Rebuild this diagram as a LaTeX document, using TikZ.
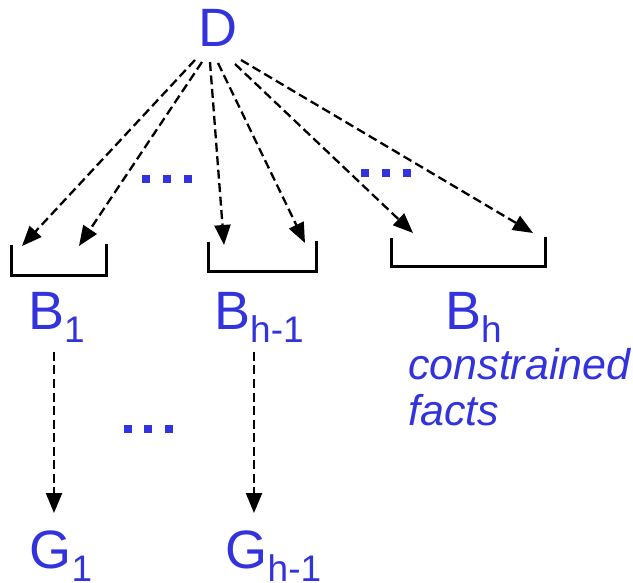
\documentclass[tikz,border=0pt]{standalone}
\usepackage{fontspec}
\setmainfont{Liberation Sans}
\usetikzlibrary{arrows.meta}
\definecolor{tblue}{RGB}{51,51,221}
\newcommand{\lsub}[1]{\raisebox{-13pt}{\fontsize{37}{40}\selectfont #1}}
\tikzset{
  lbl/.style={text=tblue, inner sep=0pt, anchor=base west, font=\fontsize{54}{60}\selectfont},
  note/.style={text=tblue, inner sep=0pt, anchor=base west, font=\fontsize{43}{45}\selectfont\itshape},
  darr/.style={draw=black, line width=2.3pt, dash pattern=on 9pt off 4.5pt, -{Triangle[length=20pt,width=16pt]}},
  bucketline/.style={draw=black, line width=3pt},
  dotsq/.style={fill=tblue, draw=none, minimum size=8pt, inner sep=0pt}
}
\begin{document}
\begin{tikzpicture}[x=1pt,y=-1pt]
\useasboundingbox (0,0) rectangle (633,583);
% labels
\node[lbl] (D) at (198,47) {D};
\node[lbl] (B1) at (28,330) {B\lsub{1}};
\node[lbl] (Bh1) at (214,330) {B\lsub{h-1}};
\node[lbl] (Bh) at (445,330) {B\lsub{h}};
\node[note] (c1) at (408,380) {constrained};
\node[note] (c2) at (408,425) {facts};
\node[lbl] (G1) at (29.5,568) {G\lsub{1}};
\node[lbl] (Gh1) at (225.5,568) {G\lsub{h-1}};
% buckets
\draw[bucketline] (11,245) -- (11,276) -- (106,276) -- (106,244);
\draw[bucketline] (208,242) -- (208,272) -- (316,272) -- (316,241);
\draw[bucketline] (391,238) -- (391,267) -- (545,267) -- (545,237);
% arrow ends
\coordinate (s1) at (195,60);
\coordinate (s2) at (202,62);
\coordinate (s3) at (210,62);
\coordinate (s4) at (218,63);
\coordinate (s5) at (235,64);
\coordinate (s6) at (241,60);
\coordinate (t1) at (22,246);
\coordinate (t2) at (79,246);
\coordinate (t3) at (224,245);
\coordinate (t4) at (305,243);
\coordinate (t5) at (413,233);
\coordinate (t6) at (533,233);
\draw[darr] (s1) -- (t1);
\draw[darr] (s2) -- (t2);
\draw[darr] (s3) -- (t3);
\draw[darr] (s4) -- (t4);
\draw[darr] (s5) -- (t5);
\draw[darr] (s6) -- (t6);
% vertical arrows
\coordinate (v1s) at (54,352);
\coordinate (v1t) at (54,513);
\coordinate (v2s) at (254,352);
\coordinate (v2t) at (254,513);
\draw[darr] (v1s) -- (v1t);
\draw[darr] (v2s) -- (v2t);
% dots
\foreach \x/\n in {146/a,167/b,188/c} \node[dotsq] (dl\n) at (\x,179) {};
\foreach \x/\n in {365/a,386/b,407/c} \node[dotsq] (dr\n) at (\x,173) {};
\foreach \x/\n in {128/a,148/b,169/c} \node[dotsq] (db\n) at (\x,429) {};
\end{tikzpicture}
\end{document}
